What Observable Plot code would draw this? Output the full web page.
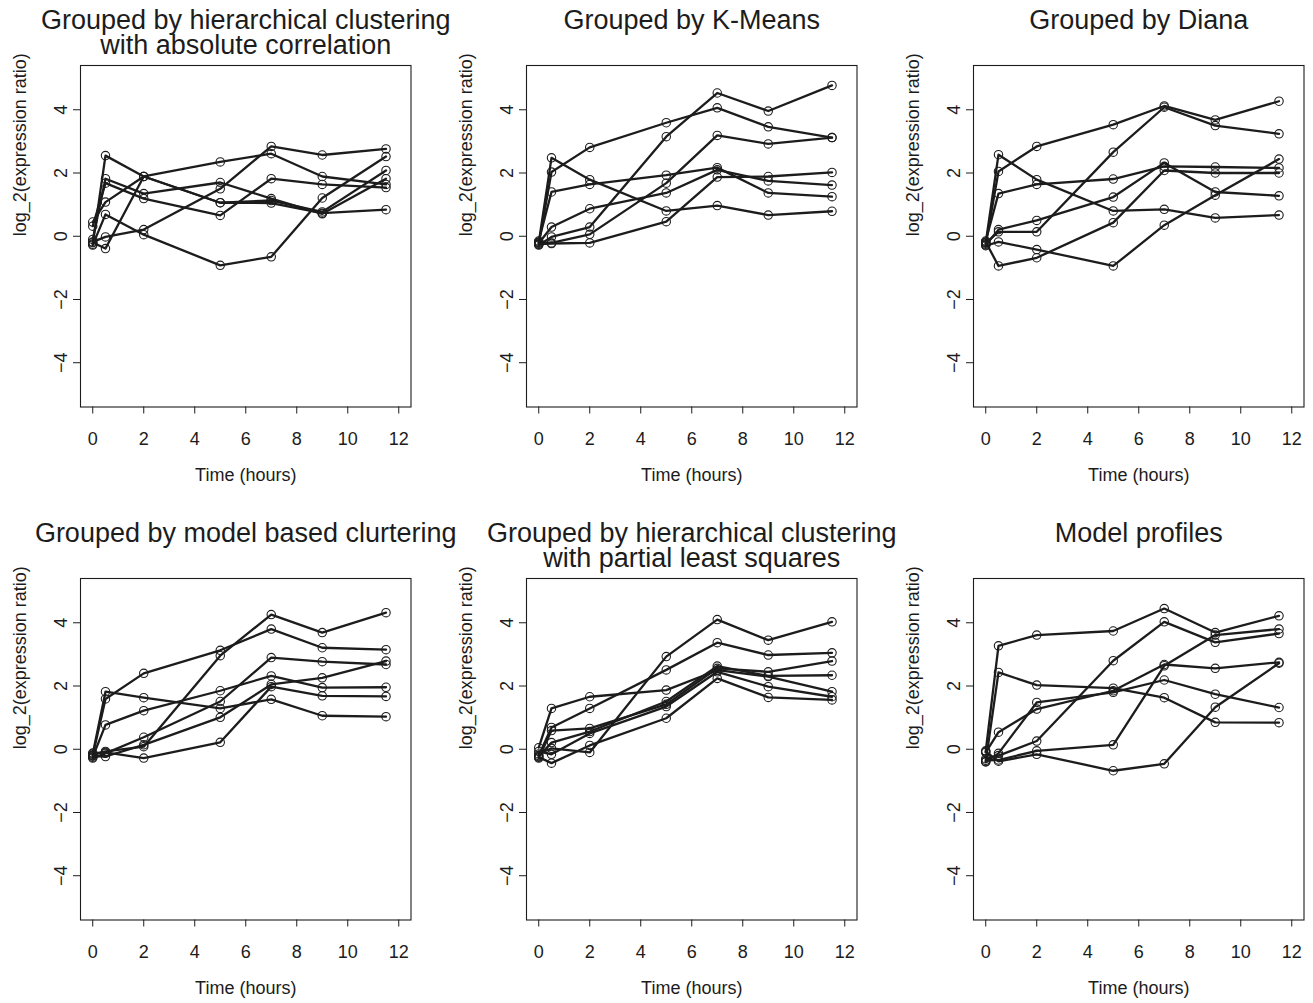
<!DOCTYPE html>
<html>
<head>
<meta charset="utf-8">
<script src="https://cdn.jsdelivr.net/npm/d3@7"></script>
<script src="https://cdn.jsdelivr.net/npm/@observablehq/plot@0.6"></script>
<style>
  html, body { margin: 0; padding: 0; background: #fff; }
  #wrap { position: relative; width: 1313px; height: 1003px; overflow: hidden; background: #fff; }
</style>
</head>
<body>
<div id="wrap"></div>
<script>
// ---- data ----
const times = [0, 0.5, 2, 5, 7, 9, 11.5];
const xTicks = [0, 2, 4, 6, 8, 10, 12];
const yTicks = [-4, -2, 0, 2, 4];

const titles = [
  "Grouped by hierarchical clustering\nwith absolute correlation",
  "Grouped by K-Means",
  "Grouped by Diana",
  "Grouped by model based clurtering",
  "Grouped by hierarchical clustering\nwith partial least squares",
  "Model profiles"
];

const hclustAbs = [
  [-0.25, 2.55, 1.89, 1.06, 1.05, 0.73, 0.84],
  [-0.20, -0.39, 1.89, 2.35, 2.61, 1.89, 1.64],
  [0.45, 1.08, 1.89, 1.06, 1.13, 0.77, 2.08],
  [-0.10, 1.82, 1.35, 1.70, 1.19, 0.71, 1.82],
  [0.32, 1.68, 1.19, 0.66, 1.82, 1.64, 1.54],
  [-0.28, 0.69, 0.05, -0.92, -0.65, 1.21, 2.52],
  [-0.18, -0.02, 0.21, 1.50, 2.84, 2.57, 2.76]
];
const kmeans = [
  [-0.20, 2.48, 1.79, 0.80, 0.97, 0.67, 0.79],
  [-0.25, 2.03, 2.81, 3.59, 4.06, 3.46, 3.12],
  [-0.15, 1.40, 1.64, 1.93, 2.17, 1.37, 1.25],
  [-0.22, 0.29, 0.87, 1.37, 2.10, 1.75, 1.62],
  [-0.28, -0.02, 0.29, 3.15, 4.53, 3.96, 4.77],
  [-0.18, -0.21, 0.06, 1.68, 3.19, 2.92, 3.12],
  [-0.25, -0.23, -0.21, 0.46, 1.87, 1.89, 2.02]
];
const diana = [
  [-0.20, 2.58, 1.79, 0.80, 0.85, 0.58, 0.67],
  [-0.25, 2.05, 2.84, 3.53, 4.12, 3.68, 4.27],
  [-0.15, 1.35, 1.64, 1.81, 2.21, 2.19, 2.16],
  [-0.28, 0.21, 0.50, 1.24, 2.32, 1.40, 1.28],
  [-0.22, 0.14, 0.14, 2.66, 4.08, 3.50, 3.24],
  [-0.30, -0.18, -0.42, -0.94, 0.35, 1.30, 2.44],
  [-0.18, -0.94, -0.68, 0.43, 2.08, 2.00, 2.00]
];
const modelBased = [
  [-0.15, 1.82, 1.63, 1.29, 1.58, 1.06, 1.03],
  [-0.20, 1.59, 2.40, 3.13, 3.80, 3.21, 3.15],
  [-0.25, 0.77, 1.22, 1.85, 2.32, 1.95, 1.96],
  [-0.18, -0.07, 0.08, 2.96, 4.26, 3.69, 4.32],
  [-0.28, -0.13, 0.38, 1.51, 2.90, 2.77, 2.68],
  [-0.22, -0.23, 0.14, 1.01, 2.05, 2.26, 2.79],
  [-0.12, -0.10, -0.28, 0.22, 1.98, 1.69, 1.67]
];
const hclustPls = [
  [0.05, 1.29, 1.66, 1.87, 2.50, 2.30, 1.82],
  [-0.20, 0.69, 1.29, 2.51, 3.37, 2.98, 3.05],
  [-0.15, 0.03, -0.10, 2.93, 4.10, 3.45, 4.03],
  [-0.28, 0.59, 0.66, 1.42, 2.56, 2.45, 2.79],
  [-0.23, 0.21, 0.56, 1.51, 2.63, 2.32, 2.34],
  [-0.07, -0.16, 0.50, 1.35, 2.45, 1.98, 1.66],
  [-0.25, -0.44, 0.12, 0.98, 2.24, 1.64, 1.56]
];
const modelProfiles = [
  [-0.05, 3.27, 3.61, 3.74, 4.45, 3.69, 4.22],
  [-0.39, 2.43, 2.03, 1.93, 1.63, 0.85, 0.84],
  [-0.10, 0.54, 1.27, 1.85, 2.68, 2.56, 2.75],
  [-0.40, -0.13, 1.48, 1.80, 2.19, 1.74, 1.32],
  [-0.30, -0.20, 0.26, 2.80, 4.03, 3.38, 3.66],
  [-0.35, -0.34, -0.05, 0.14, 2.64, 3.61, 3.80],
  [-0.08, -0.38, -0.16, -0.68, -0.46, 1.33, 2.72]
];

const panels = [hclustAbs, kmeans, diana, modelBased, hclustPls, modelProfiles];

// ---- layout ----
const colLeft = [79.7, 526.3, 972.5];
const rowTop = [65, 578];
const W = 330.5, H = 341.5;
const mL = 80, mR = 12, mT = 65, mB = 88;
const ink = "#1c1c1c";
const font = "'Liberation Sans', Arial, Helvetica, sans-serif";

const wrap = document.getElementById("wrap");

panels.forEach((series, p) => {
  const rows = series.flatMap((vals, k) => vals.map((v, i) => ({t: times[i], v, s: k})));
  const chart = Plot.plot({
    width: mL + W + mR,
    height: mT + H + mB,
    marginLeft: mL, marginRight: mR, marginTop: mT, marginBottom: mB,
    x: {domain: [-0.48, 12.48]},
    y: {domain: [-5.4, 5.4]},
    style: {fontFamily: font, background: "transparent", overflow: "visible", maxWidth: "none", color: ink},
    marks: [
      Plot.axisX({ticks: xTicks, tickSize: 7, tickPadding: 18, fontSize: 18, label: null, stroke: ink, fill: ink}),
      Plot.axisY({ticks: yTicks, tickSize: 7, tickPadding: 7, tickRotate: -90, fontSize: 18, label: null, stroke: ink, fill: ink}),
      Plot.frame({stroke: ink, strokeWidth: 1.1}),
      Plot.line(rows, {x: "t", y: "v", z: "s", stroke: ink, strokeWidth: 2.3}),
      Plot.dot(rows, {x: "t", y: "v", r: 4.2, stroke: ink, strokeWidth: 1.1, fill: "none"}),
      Plot.text([titles[p]], {text: d => d, frameAnchor: "top", lineAnchor: "top", dy: -54, fontSize: 27, lineHeight: 0.93, fill: ink}),
      Plot.text(["Time (hours)"], {text: d => d, frameAnchor: "bottom", lineAnchor: "middle", dy: 68.3, fontSize: 18, fill: ink}),
      Plot.text(["log_2(expression ratio)"], {text: d => d, frameAnchor: "left", lineAnchor: "middle", rotate: -90, dx: -60.5, fontSize: 18, fill: ink})
    ]
  });
  const c = p % 3, r = Math.floor(p / 3);
  chart.style.position = "absolute";
  chart.style.left = (colLeft[c] - mL) + "px";
  chart.style.top = (rowTop[r] - mT) + "px";
  wrap.appendChild(chart);
});
</script>
</body>
</html>
